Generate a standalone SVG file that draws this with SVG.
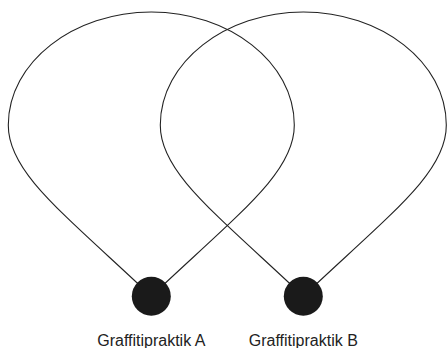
<svg xmlns="http://www.w3.org/2000/svg" width="448" height="348" viewBox="0 0 448 348">
<style>
.link{fill:none;stroke:#222;stroke-width:1.1}
.node circle{fill:#1a1a1a}
.label{font-family:"Liberation Sans",Arial,sans-serif;font-size:16px;fill:#222;text-anchor:middle}
</style>
<rect width="448" height="348" fill="#fff"/>
<g id="links">
<path class="link" d="M151.3 296.2 C62 212 8 172 8.3 125 C8.3 62 74 12 151.3 12 C228.6 12 294.3 62 294.3 125 C294.6 172 240.6 212 151.3 296.2"/>
<path class="link" d="M303.3 296.2 C214 212 160 172 160.3 125 C160.3 62 226 12 303.3 12 C380.6 12 446.3 62 446.3 125 C446.6 172 392.6 212 303.3 296.2"/>
</g>
<g id="nodeA" class="node">
<circle cx="151.3" cy="296.2" r="19.5"/>
<text class="label" x="151.3" y="346">Graffitipraktik A</text>
</g>
<g id="nodeB" class="node">
<circle cx="303.3" cy="296.2" r="19.5"/>
<text class="label" x="303.3" y="346">Graffitipraktik B</text>
</g>
</svg>
